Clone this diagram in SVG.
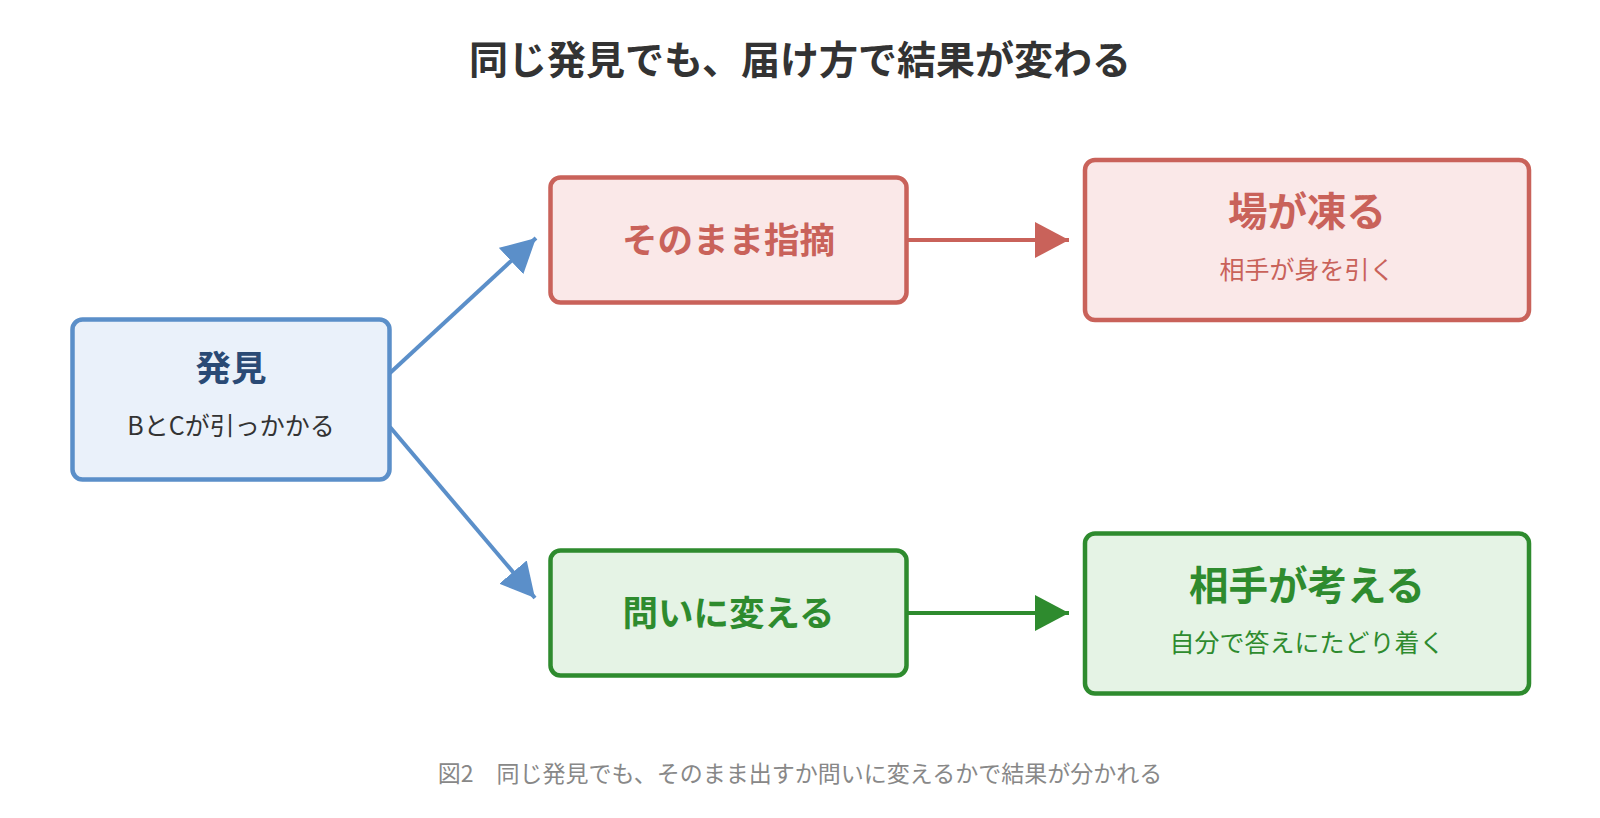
<svg xmlns="http://www.w3.org/2000/svg" width="1600" height="818" viewBox="0 0 1600 818">
<defs>
<style>
text{font-family:"Noto Sans CJK JP","Noto Sans CJK SC",sans-serif;text-anchor:middle}
.title{font-size:39px;font-weight:700;fill:#333333}
.cap{font-size:23px;fill:#888888}
.h{font-weight:700;font-size:35.5px}
.hb{font-weight:700;font-size:39.5px}
.s{font-size:25px}
.blue rect{fill:#EAF1FA;stroke:#5B8FC9;stroke-width:4.5}
.red rect{fill:#FAE8E8;stroke:#C9625A;stroke-width:4.5}
.green rect{fill:#E5F3E5;stroke:#2E8B2E;stroke-width:4.5}
.blue .h{fill:#2A4A75}
.blue .s{fill:#333333}
.red text{fill:#C9625A}
.green text{fill:#2E8B2E}
</style>
<marker id="ab" markerWidth="34" markerHeight="36" refX="34" refY="18" orient="auto" markerUnits="userSpaceOnUse"><path d="M0,0 L34,18 L0,36 Z" fill="#5B8FC9"/></marker>
<marker id="ar" markerWidth="34" markerHeight="36" refX="34" refY="18" orient="auto" markerUnits="userSpaceOnUse"><path d="M0,0 L34,18 L0,36 Z" fill="#C9625A"/></marker>
<marker id="ag" markerWidth="34" markerHeight="36" refX="34" refY="18" orient="auto" markerUnits="userSpaceOnUse"><path d="M0,0 L34,18 L0,36 Z" fill="#2E8B2E"/></marker>
</defs>
<rect width="1600" height="818" fill="#FFFFFF"/>
<text class="title" x="800" y="74">同じ発見でも、届け方で結果が変わる</text>
<g id="connectors" fill="none" stroke-width="4">
<line x1="390" y1="373" x2="536" y2="238" stroke="#5B8FC9" marker-end="url(#ab)"/>
<line x1="390" y1="427" x2="535" y2="598" stroke="#5B8FC9" marker-end="url(#ab)"/>
<line x1="907" y1="240" x2="1069" y2="240" stroke="#C9625A" marker-end="url(#ar)"/>
<line x1="907" y1="613" x2="1069" y2="613" stroke="#2E8B2E" marker-end="url(#ag)"/>
</g>
<g id="discovery" class="blue">
<rect x="72.5" y="319.5" width="317" height="160" rx="10"/>
<text class="h" x="231" y="381">発見</text>
<text class="s" x="231" y="435">BとCが引っかかる</text>
</g>
<g id="direct" class="red">
<rect x="550.5" y="177.5" width="356" height="125" rx="10"/>
<text class="h" x="728.5" y="253">そのまま指摘</text>
</g>
<g id="freeze" class="red">
<rect x="1085" y="160" width="444" height="160" rx="10"/>
<text class="hb" x="1307" y="226">場が凍る</text>
<text class="s" x="1307" y="279">相手が身を引く</text>
</g>
<g id="question" class="green">
<rect x="550.5" y="550.5" width="356" height="125" rx="10"/>
<text class="h" x="728.5" y="626">問いに変える</text>
</g>
<g id="think" class="green">
<rect x="1085" y="533.5" width="444" height="160" rx="10"/>
<text class="hb" x="1307" y="600">相手が考える</text>
<text class="s" x="1307" y="652">自分で答えにたどり着く</text>
</g>
<text class="cap" x="800" y="782">図2　同じ発見でも、そのまま出すか問いに変えるかで結果が分かれる</text>
</svg>
